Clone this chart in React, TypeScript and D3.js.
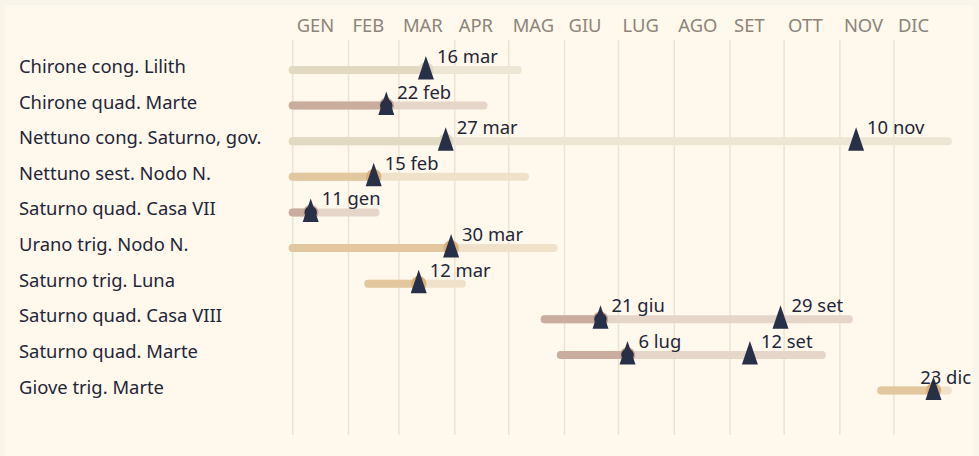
import React from "react";
import * as d3 from "d3";

const months = ["GEN", "FEB", "MAR", "APR", "MAG", "GIU", "LUG", "AGO", "SET", "OTT", "NOV", "DIC"];
const rowLabels = [
  "Chirone cong. Lilith",
  "Chirone quad. Marte",
  "Nettuno cong. Saturno, gov.",
  "Nettuno sest. Nodo N.",
  "Saturno quad. Casa VII",
  "Urano trig. Nodo N.",
  "Saturno trig. Luna",
  "Saturno quad. Casa VIII",
  "Saturno quad. Marte",
  "Giove trig. Marte",
];
const aspectTypes = ["cong", "quad", "cong", "trig", "quad", "trig", "trig", "quad", "quad", "trig"];
const startDates = ["2025-01-01", "2025-01-01", "2025-01-01", "2025-01-01", "2025-01-01", "2025-01-01", "2025-02-12", "2025-05-21", "2025-05-30", "2025-11-24"];
const endDates = ["2025-05-06", "2025-04-17", "2025-12-31", "2025-05-10", "2025-02-16", "2025-05-26", "2025-04-05", "2025-11-06", "2025-10-22", "2025-12-31"];
const exactDates: string[][] = [
  ["2025-03-16"],
  ["2025-02-22"],
  ["2025-03-27", "2025-11-10"],
  ["2025-02-15"],
  ["2025-01-11"],
  ["2025-03-30"],
  ["2025-03-12"],
  ["2025-06-21", "2025-09-29"],
  ["2025-07-06", "2025-09-12"],
  ["2025-12-23"],
];
const exactLabels: string[][] = [
  ["16 mar"],
  ["22 feb"],
  ["27 mar", "10 nov"],
  ["15 feb"],
  ["11 gen"],
  ["30 mar"],
  ["12 mar"],
  ["21 giu", "29 set"],
  ["6 lug", "12 set"],
  ["23 dic"],
];

const palette: Record<string, { light: string; dark: string; dot: string; ring: string }> = {
  cong: { light: "#ede6d4", dark: "#e2d9c3", dot: "#e2d9c3", ring: "#e2d9c3" },
  quad: { light: "#e6d5c9", dark: "#c9ad9f", dot: "#262c42", ring: "#c9a596" },
  trig: { light: "#f0e2ca", dark: "#e2c79f", dot: "#dcb27a", ring: "#dcb27a" },
};

const W = 979;
const H = 456;
const FONT = "'Noto Sans', sans-serif";
const FS = 18.4;

export default function App() {
  const parse = d3.timeParse("%Y-%m-%d");
  const x = d3
    .scaleTime()
    .domain([new Date(2025, 0, 1), new Date(2026, 0, 1)])
    .range([292.7, 949.7]);
  const y = d3
    .scalePoint<number>()
    .domain(d3.range(rowLabels.length))
    .range([70, 390.5]);
  const monthStarts = d3.timeMonth.range(new Date(2025, 0, 1), new Date(2026, 0, 1));
  const tri = (cx: number, cy: number) =>
    `M${cx},${cy - 14}L${cx + 8},${cy + 9.5}L${cx - 8},${cy + 9.5}Z`;

  return (
    <svg
      width={W}
      height={H}
      style={{ position: "absolute", left: 0, top: 0, fontFamily: FONT }}
    >
      <rect x={0} y={0} width={W} height={H} fill="#faf5ea" />
      <rect x={5} y={5} width={968} height={H} fill="#fff8ec" />
      {monthStarts.map((m, i) => (
        <g key={i}>
          <line x1={x(m)} x2={x(m)} y1={40} y2={435} stroke="#ede3d2" strokeWidth={1.5} />
          <text x={x(m) + 4} y={31.5} fontSize={FS} fill="#8d857b">
            {months[i]}
          </text>
        </g>
      ))}
      {rowLabels.map((lab, i) => {
        const cy = y(i)!;
        const pal = palette[aspectTypes[i]];
        const s = x(parse(startDates[i])!);
        const e = x(parse(endDates[i])!);
        const ex = exactDates[i].map((d) => x(parse(d)!));
        return (
          <g key={i}>
            <text x={19} y={cy + 3} fontSize={FS} fill="#1f2639">
              {lab}
            </text>
            <line x1={s} x2={e} y1={cy} y2={cy} stroke={pal.light} strokeWidth={8} strokeLinecap="round" />
            <line x1={s} x2={ex[0]} y1={cy} y2={cy} stroke={pal.dark} strokeWidth={8} strokeLinecap="round" />
            <circle cx={ex[0]} cy={cy} r={7} fill={pal.dot} stroke={pal.ring} strokeWidth={1.5} />
            {ex.map((px, j) => {
              const lbl = exactLabels[i][j];
              const far = px + 11 + lbl.length * 9.5 > 971;
              return (
                <g key={j}>
                  <path d={tri(px, cy)} fill="#283047" />
                  <text
                    x={far ? 971 : px + 11}
                    y={cy - 7}
                    fontSize={FS}
                    fill="#1f2639"
                    textAnchor={far ? "end" : "start"}
                  >
                    {lbl}
                  </text>
                </g>
              );
            })}
          </g>
        );
      })}
    </svg>
  );
}
